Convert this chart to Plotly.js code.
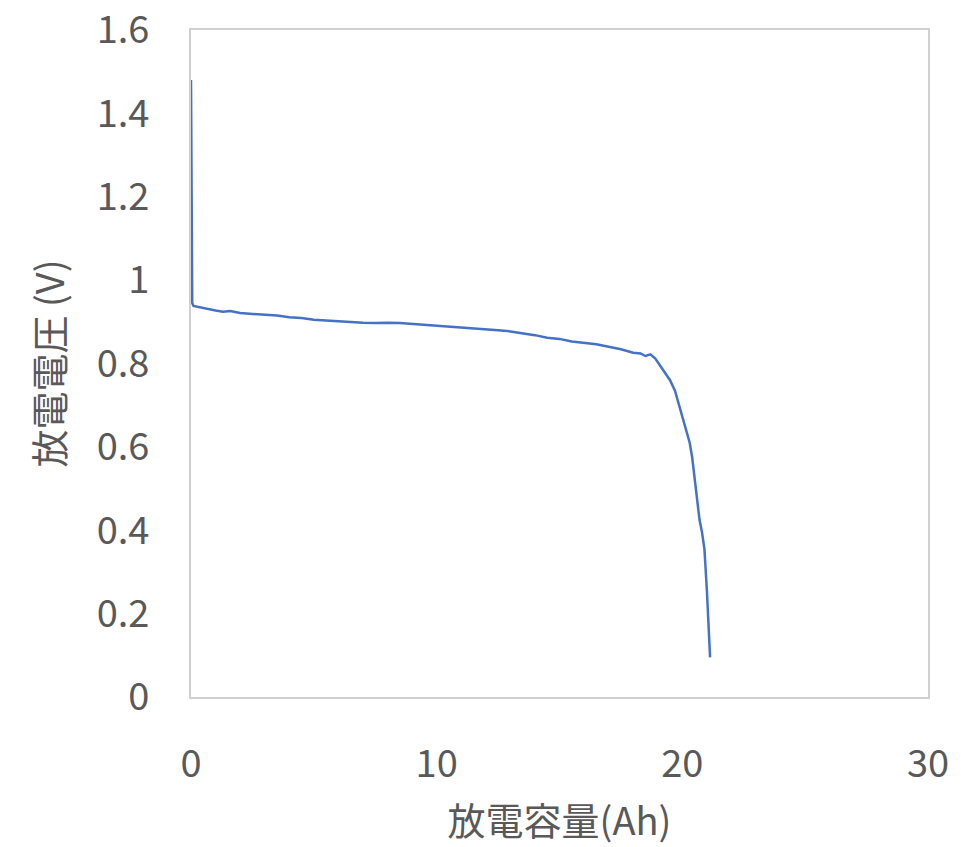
<!DOCTYPE html>
<html>
<head>
<meta charset="utf-8">
<script src="https://cdn.plot.ly/plotly-3.0.1.min.js"></script>
<style>
html,body{margin:0;padding:0;background:#fff;}
#chart{width:961px;height:847px;}
</style>
</head>
<body>
<div id="chart"></div>
<script>
// Discharge capacity (Ah)
const capacityAh = [0, 0.02, 0.05, 0.1, 0.4, 0.7, 1.0, 1.3, 1.6, 2.0, 2.5, 3.0, 3.5, 4.0, 4.5, 5.0, 5.5, 6.0, 6.5, 7.0, 7.5, 8.0, 8.5, 9.0, 9.5, 10.0, 10.5, 11.0, 11.5, 12.0, 12.5, 13.0, 13.5, 14.0, 14.5, 15.0, 15.5, 16.0, 16.5, 17.0, 17.5, 18.0, 18.3, 18.5, 18.7, 18.9, 19.1, 19.3, 19.5, 19.7, 19.9, 20.05, 20.2, 20.3, 20.4, 20.5, 20.6, 20.7, 20.8, 20.9, 21.0, 21.05, 21.1, 21.13];
// Discharge voltage (V)
const voltageV = [1.48, 1.30, 0.945, 0.938, 0.934, 0.930, 0.927, 0.924, 0.926, 0.921, 0.919, 0.917, 0.915, 0.911, 0.909, 0.905, 0.903, 0.901, 0.899, 0.898, 0.897, 0.898, 0.897, 0.895, 0.892, 0.891, 0.889, 0.887, 0.884, 0.883, 0.880, 0.877, 0.873, 0.868, 0.862, 0.859, 0.853, 0.850, 0.846, 0.840, 0.834, 0.826, 0.824, 0.818, 0.822, 0.812, 0.795, 0.776, 0.760, 0.735, 0.695, 0.665, 0.634, 0.610, 0.575, 0.525, 0.465, 0.425, 0.395, 0.355, 0.255, 0.190, 0.130, 0.095];

const xTickVals = [0, 10, 20, 30];
const xTickText = ['0', '10', '20', '30'];
const yTickVals = [0, 0.2, 0.4, 0.6, 0.8, 1, 1.2, 1.4, 1.6];
const yTickText = ['0', '0.2', '0.4', '0.6', '0.8', '1', '1.2', '1.4', '1.6'];

const xTitle = '放電容量(Ah)';
const yTitle = '放電電圧 (V)';

const fontFam = '"Noto Sans CJK JP", "Noto Sans", sans-serif';
const grey = '#595959';

const trace = {
  x: capacityAh,
  y: voltageV,
  type: 'scatter',
  mode: 'lines',
  line: {color: '#4472C4', width: 2.5},
  hoverinfo: 'skip'
};

const layout = {
  width: 961,
  height: 847,
  paper_bgcolor: '#ffffff',
  plot_bgcolor: '#ffffff',
  margin: {l: 191, r: 33, t: 30, b: 150},
  showlegend: false,
  font: {family: fontFam, color: grey, size: 38},
  xaxis: {
    range: [0, 30],
    tickvals: xTickVals,
    ticktext: xTickText,
    showgrid: false,
    zeroline: false,
    showline: true,
    mirror: true,
    linecolor: '#d0d0d0',
    linewidth: 2,
    ticks: '',
    ticklabelstandoff: 32,
    ticklabeloverflow: 'allow',
    tickfont: {family: fontFam, size: 38, color: grey},
    title: {text: xTitle, font: {family: fontFam, size: 38, color: grey}, standoff: 22},
    automargin: false
  },
  yaxis: {
    range: [0, 1.6],
    tickvals: yTickVals,
    ticktext: yTickText,
    showgrid: false,
    zeroline: false,
    showline: true,
    mirror: true,
    linecolor: '#d0d0d0',
    linewidth: 2,
    ticks: '',
    ticklabelstandoff: 32,
    ticklabeloverflow: 'allow',
    tickfont: {family: fontFam, size: 38, color: grey},
    title: {text: yTitle, font: {family: fontFam, size: 38, color: grey}, standoff: 20},
    automargin: false
  }
};

Plotly.newPlot('chart', [trace], layout, {displayModeBar: false, staticPlot: true});
</script>
</body>
</html>
